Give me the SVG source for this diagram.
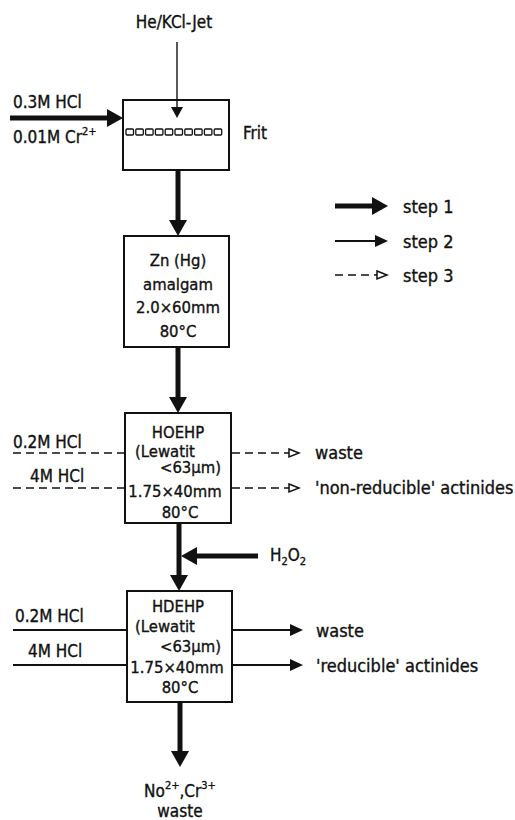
<svg xmlns="http://www.w3.org/2000/svg" width="515" height="820" viewBox="0 0 515 820">
<style>
text{font-family:"DejaVu Sans Condensed","Liberation Sans Narrow","Liberation Sans",sans-serif;font-size:17px;fill:#111;stroke:#111;stroke-width:0.35}
.r{font-size:18px}
.b{font-size:16.5px}
.c{text-anchor:middle}
.e{text-anchor:end}
.sup{font-size:11px}
.box{fill:#fff;stroke:#111;stroke-width:2}
.s1{stroke:#111;stroke-width:5;fill:none}
.s2{stroke:#111;stroke-width:2.2;fill:none}
.s3{stroke:#111;stroke-width:1.6;fill:none;stroke-dasharray:8 5}
.thin{stroke:#111;stroke-width:1.4;fill:none}
.frit{fill:#fff;stroke:#111;stroke-width:1.3}
</style>
<defs>
<marker id="m1" markerUnits="userSpaceOnUse" markerWidth="16" markerHeight="18" refX="3" refY="9" orient="auto"><path d="M0,0 L16,9 L0,18 z" fill="#111"/></marker>
<marker id="m2" markerUnits="userSpaceOnUse" markerWidth="13" markerHeight="12" refX="2" refY="6" orient="auto"><path d="M0,0 L13,6 L0,12 z" fill="#111"/></marker>
<marker id="m3" markerUnits="userSpaceOnUse" markerWidth="14" markerHeight="12" refX="1" refY="6" orient="auto"><path d="M1,2 L11,6 L1,10 z" fill="#fff" stroke="#111" stroke-width="1.5"/></marker>
<marker id="mj" markerUnits="userSpaceOnUse" markerWidth="12" markerHeight="12" refX="2" refY="6" orient="auto"><path d="M0,0 L11,6 L0,12 z" fill="#111"/></marker>
</defs>

<g id="frit">
<rect class="box" x="123" y="100" width="106" height="70"/>
<rect class="frit" x="126" y="129" width="7.5" height="6" rx="1"/>
<rect class="frit" x="135.8" y="129" width="7.5" height="6" rx="1"/>
<rect class="frit" x="145.6" y="129" width="7.5" height="6" rx="1"/>
<rect class="frit" x="155.4" y="129" width="7.5" height="6" rx="1"/>
<rect class="frit" x="165.2" y="129" width="7.5" height="6" rx="1"/>
<rect class="frit" x="175" y="129" width="7.5" height="6" rx="1"/>
<rect class="frit" x="184.8" y="129" width="7.5" height="6" rx="1"/>
<rect class="frit" x="194.6" y="129" width="7.5" height="6" rx="1"/>
<rect class="frit" x="204.4" y="129" width="7.5" height="6" rx="1"/>
<rect class="frit" x="214.2" y="129" width="7.5" height="6" rx="1"/>
<text x="243" y="139">Frit</text>
</g>

<g id="amalgam">
<rect class="box" x="124" y="236" width="105" height="111"/>
<text class="c b" x="178" y="266">Zn (Hg)</text>
<text class="c b" x="178" y="290">amalgam</text>
<text class="c b" x="178" y="313">2.0×60mm</text>
<text class="c b" x="178" y="337">80°C</text>
</g>

<g id="column1">
<rect class="box" x="125" y="413" width="106" height="110"/>
<text class="c b" x="178" y="438">HOEHP</text>
<text class="b" x="135" y="457">(Lewatit</text>
<text class="e b" x="221" y="473">&lt;63μm)</text>
<text class="c b" x="175" y="497">1.75×40mm</text>
<text class="c b" x="180" y="518">80°C</text>
</g>

<g id="column2">
<rect class="box" x="127" y="591" width="105" height="111"/>
<text class="c b" x="178" y="612">HDEHP</text>
<text class="b" x="135" y="632">(Lewatit</text>
<text class="e b" x="221" y="652">&lt;63μm)</text>
<text class="c b" x="177" y="673">1.75×40mm</text>
<text class="c b" x="180" y="693">80°C</text>
</g>

<g id="connectors">
<line class="thin" x1="177" y1="42" x2="177" y2="109" marker-end="url(#mj)"/>
<line class="s1" x1="10" y1="118" x2="110" y2="118" marker-end="url(#m1)"/>
<line class="s1" x1="178" y1="171" x2="178" y2="223" marker-end="url(#m1)"/>
<line class="s1" x1="178" y1="348" x2="178" y2="400" marker-end="url(#m1)"/>
<line class="s3" x1="13" y1="453" x2="124" y2="453"/>
<line class="s3" x1="13" y1="488" x2="124" y2="488"/>
<line class="s3" x1="232" y1="453" x2="289" y2="453" marker-end="url(#m3)"/>
<line class="s3" x1="232" y1="488" x2="289" y2="488" marker-end="url(#m3)"/>
<line class="s1" x1="179" y1="524" x2="179" y2="578" marker-end="url(#m1)"/>
<line class="s1" x1="258" y1="556" x2="194" y2="556" marker-end="url(#m1)"/>
<line class="s2" x1="13" y1="630" x2="126" y2="630"/>
<line class="s2" x1="13" y1="665" x2="126" y2="665"/>
<line class="s2" x1="233" y1="630" x2="292" y2="630" marker-end="url(#m2)"/>
<line class="s2" x1="233" y1="665" x2="292" y2="665" marker-end="url(#m2)"/>
<line class="s1" x1="180" y1="703" x2="180" y2="754" marker-end="url(#m1)"/>
</g>

<g id="legend">
<line class="s1" x1="335" y1="206" x2="375" y2="206" marker-end="url(#m1)"/>
<text class="r" x="403" y="213">step 1</text>
<line class="s2" x1="335" y1="241" x2="377" y2="241" marker-end="url(#m2)"/>
<text class="r" x="403" y="248">step 2</text>
<line class="s3" x1="335" y1="275" x2="377" y2="275" marker-end="url(#m3)"/>
<text class="r" x="403" y="282">step 3</text>
</g>

<g id="jet"><text class="c" x="174" y="28">He/KCl-Jet</text></g>

<g id="inlet1">
<text x="13" y="108">0.3M HCl</text>
<text x="13" y="143">0.01M Cr<tspan class="sup" dy="-8">2+</tspan></text>
</g>

<g id="labels1">
<text x="13" y="448">0.2M HCl</text>
<text x="30" y="482">4M HCl</text>
<text class="r" x="315" y="459">waste</text>
<text class="r" x="315" y="494">'non-reducible' actinides</text>
<text x="270" y="561">H<tspan class="sup" dy="4">2</tspan><tspan dy="-4">O</tspan><tspan class="sup" dy="4">2</tspan></text>
</g>

<g id="labels2">
<text x="15" y="622">0.2M HCl</text>
<text x="28" y="657">4M HCl</text>
<text class="r" x="316" y="637">waste</text>
<text class="r" x="316" y="672">'reducible' actinides</text>
</g>

<g id="output">
<text class="c" x="180" y="797">No<tspan class="sup" dy="-8">2+</tspan><tspan dy="8">,Cr</tspan><tspan class="sup" dy="-8">3+</tspan></text>
<text class="c" x="180" y="817">waste</text>
</g>
</svg>
